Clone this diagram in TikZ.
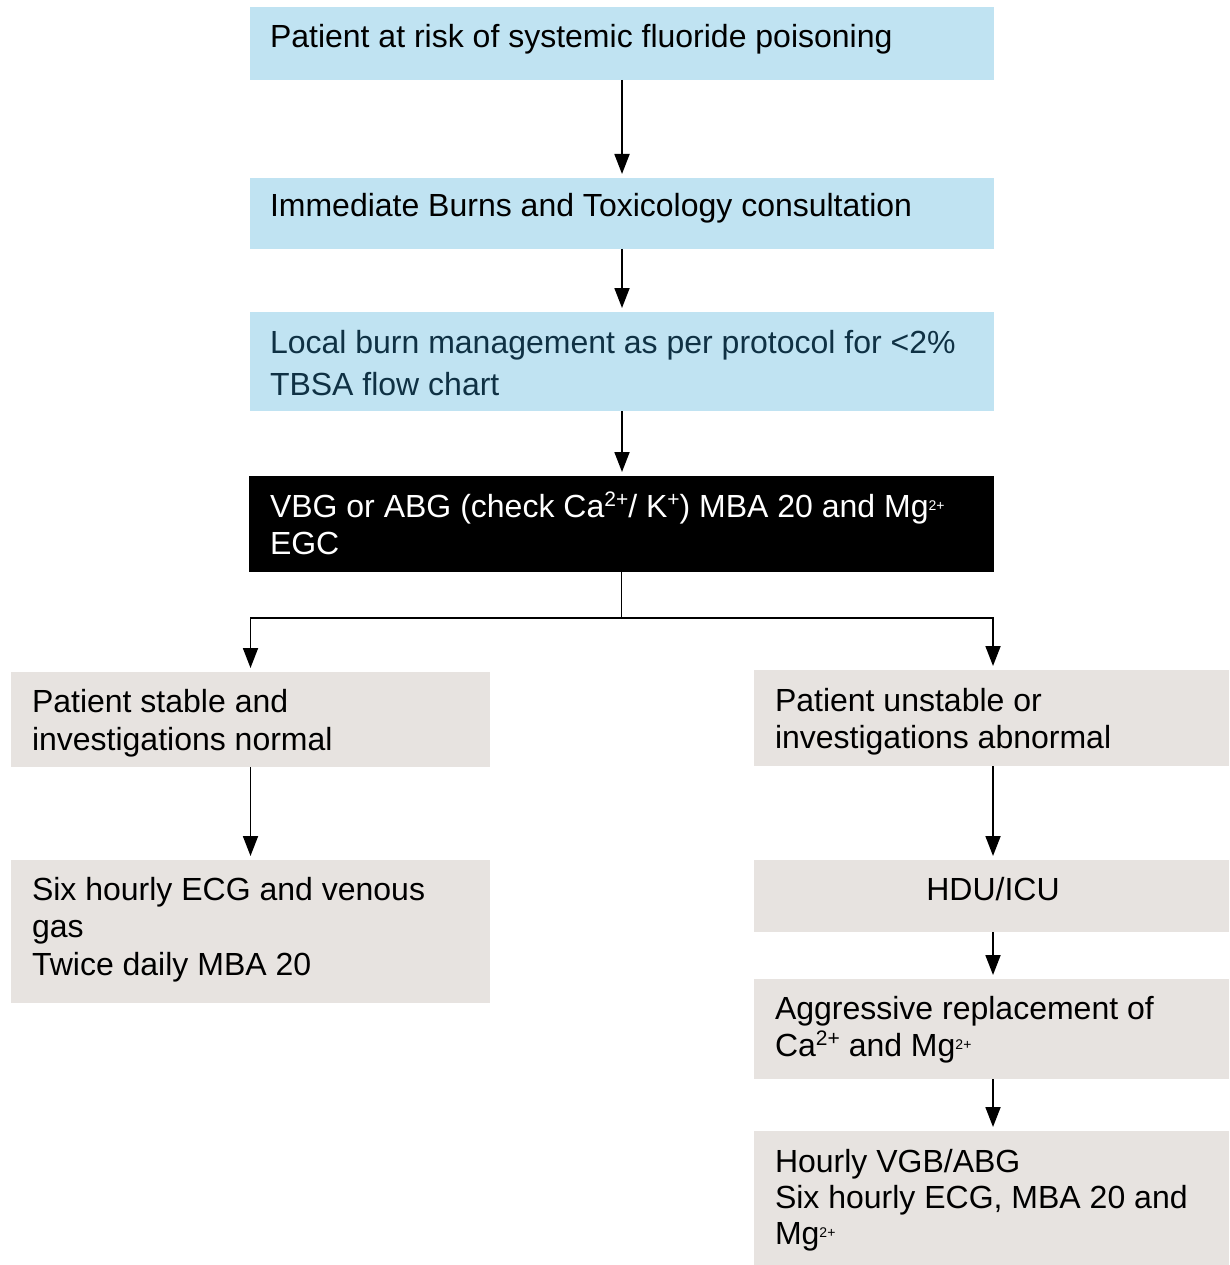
\documentclass[tikz,border=0pt]{standalone}
\usepackage{fontspec}
\setmainfont{Liberation Sans}
\usetikzlibrary{arrows.meta}
\definecolor{boxblue}{HTML}{C0E3F2}
\definecolor{boxgrey}{HTML}{E7E3E0}
\definecolor{inkblue}{HTML}{0F3144}
% superscripts: ordinary size and the reduced form used for Mg
\newcommand{\supbig}[1]{\raisebox{11pt}{\fontsize{21}{21}\selectfont #1}}
\newcommand{\supsmall}[1]{\raisebox{7pt}{\fontsize{14}{14}\selectfont #1}}
% top-aligned block of lines: width, line spacing, text
\newcommand{\lines}[3]{\parbox[t]{#1}{\fontsize{32}{#2}\selectfont\raggedright #3}}
\begin{document}
\begin{tikzpicture}[x=1pt, y=-1pt,
  box/.style={draw=none, inner sep=0pt, outer sep=0pt, anchor=north west},
  bluebox/.style={box, fill=boxblue, minimum width=744pt},
  greybox/.style={box, fill=boxgrey, minimum width=477pt},
  txt/.style={inner sep=0pt, outer sep=0pt, anchor=base west, font=\fontsize{32}{38}\selectfont},
  link/.style={line width=1.8pt, draw=black},
  arr/.style={link, -{Triangle[length=20pt,width=15pt]}, shorten >=4pt}]
\useasboundingbox (0,0) rectangle (1229,1265);

% main column
\node[bluebox, minimum height=73pt] (b1) at (250,7) {};
\node[bluebox, minimum height=71pt] (b2) at (250,178) {};
\node[bluebox, minimum height=99pt] (b3) at (250,312) {};
\node[box, fill=black, minimum width=745pt, minimum height=96pt] (b4) at (249,476) {};

\node[txt] (b1t) at (270,48) {\lines{720pt}{38}{Patient at risk of systemic fluoride poisoning}};
\node[txt] (b2t) at (270,217) {\lines{720pt}{38}{Immediate Burns and Toxicology consultation}};
\node[txt, text=inkblue] (b3t) at (270,353) {\lines{720pt}{42}{Local burn management as per protocol for <2\%\\TBSA flow chart}};
\node[txt, text=white] (b4t) at (270,517) {\lines{720pt}{37}{VBG or ABG (check Ca\supbig{2+}/ K\supbig{+}) MBA 20 and Mg\supsmall{2+}\\EGC}};

% left branch
\node[greybox, minimum width=479pt, minimum height=95pt] (l1) at (11,672) {};
\node[greybox, minimum width=479pt, minimum height=143pt] (l2) at (11,860) {};
\node[txt] (l1t) at (32,712) {\lines{450pt}{38}{Patient stable and\\investigations normal}};
\node[txt] (l2t) at (32,900) {\lines{450pt}{37.5}{Six hourly ECG and venous\\gas\\Twice daily MBA 20}};

% right branch
\node[greybox, minimum width=475pt, minimum height=96pt] (r1) at (754,670) {};
\node[greybox, minimum width=475pt, minimum height=72pt] (r2) at (754,860) {};
\node[greybox, minimum width=475pt, minimum height=100pt] (r3) at (754,979) {};
\node[greybox, minimum width=475pt, minimum height=134pt] (r4) at (754,1131) {};
\node[txt] (r1t) at (775,711) {\lines{450pt}{37}{Patient unstable or\\investigations abnormal}};
\node[txt, anchor=base] (r2t) at (993,900) {HDU/ICU};
\node[txt] (r3t) at (775,1019) {\lines{450pt}{37}{Aggressive replacement of\\Ca\supbig{2+} and Mg\supsmall{2+}}};
\node[txt] (r4t) at (775,1172) {\lines{450pt}{36}{Hourly VGB/ABG\\Six hourly ECG, MBA 20 and\\Mg\supsmall{2+}}};

% connectors
\draw[arr] (b1.south) -- (b2.north);
\draw[arr] (b2.south) -- (b3.north);
\draw[arr] (b3.south) -- (b3.south |- b4.north);
\coordinate (split) at (621.5,618);
\draw[link] (b4.south) -- (split);
\draw[arr] (split) -| (l1.north);
\draw[arr] (split) -| ([xshift=1.5pt]r1.north);
\draw[arr] (l1.south) -- (l2.north);
\draw[arr] ([xshift=1.5pt]r1.south) -- ([xshift=1.5pt]r2.north);
\draw[arr] ([xshift=1.5pt]r2.south) -- ([xshift=1.5pt]r3.north);
\draw[arr] ([xshift=1.5pt]r3.south) -- ([xshift=1.5pt]r4.north);
\end{tikzpicture}
\end{document}
